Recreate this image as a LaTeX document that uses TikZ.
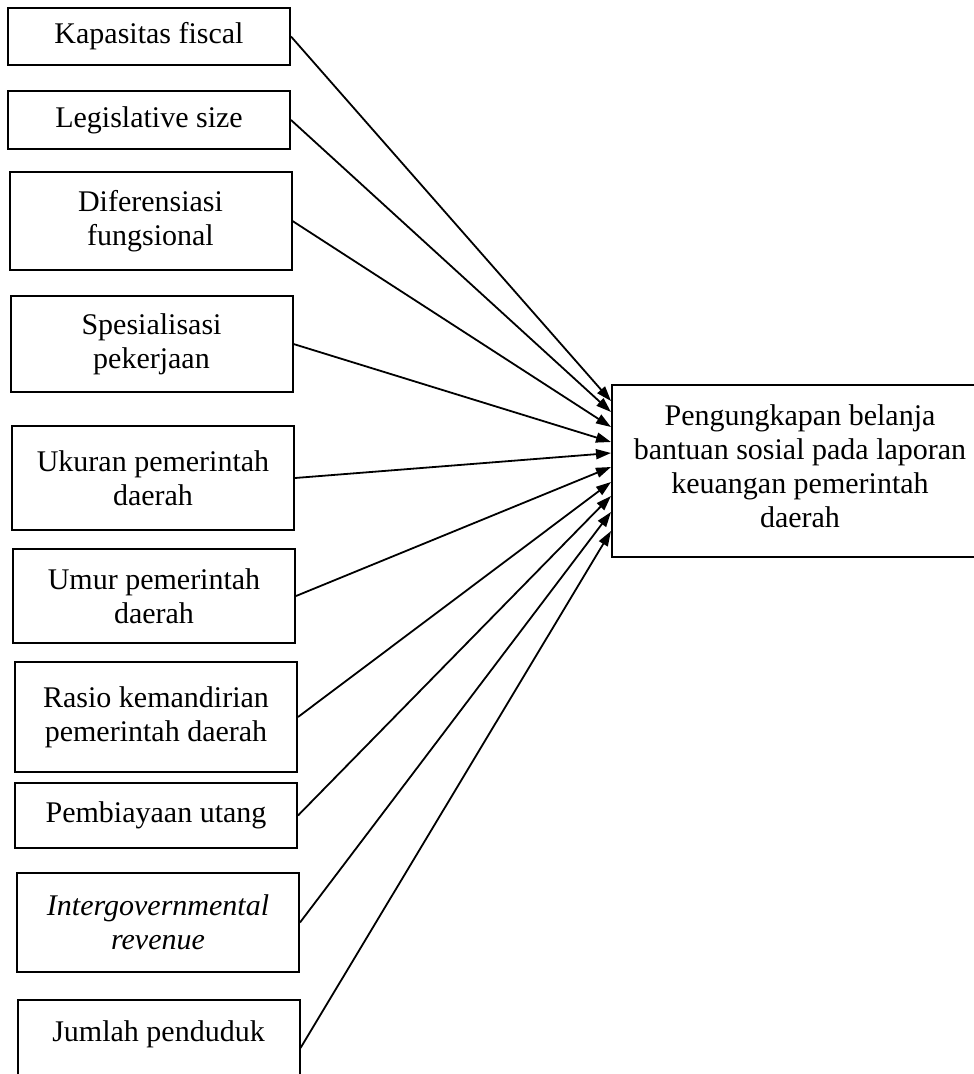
\documentclass[tikz,border=0pt]{standalone}
\usepackage{fontspec}
\setmainfont{Liberation Serif}
\usepackage{tikz}
\usetikzlibrary{arrows.meta,calc}

\tikzset{
  varbox/.style={draw, line width=2pt, minimum width=282pt, inner sep=0pt,
    align=center, font=\fontsize{30}{34}\selectfont},
  inflow/.style={line width=1.8pt, -{Triangle[length=15pt,width=10pt]}}
}

\begin{document}
\begin{tikzpicture}[x=1pt,y=1pt,yscale=-1,xscale=1]
\useasboundingbox (0,0) rectangle (974,1074);

%Shape: Rectangle [independent variables]
\node [varbox, minimum height=57pt] (kapasitas) at (149,36.5) {Kapasitas fiscal};
\node [varbox, minimum height=58pt] (legislatif) at (149,120) {Legislative size};
\node [varbox, minimum height=98pt] (diferensiasi) at (150.5,221) {Diferensiasi\\fungsional};
\node [varbox, minimum height=96pt] (spesialisasi) at (151.5,344) {Spesialisasi\\pekerjaan};
\node [varbox, minimum height=104pt] (ukuran) at (153,478) {Ukuran pemerintah\\daerah};
\node [varbox, minimum height=94pt] (umur) at (154,596) {Umur pemerintah\\daerah};
\node [varbox, minimum height=110pt] (rasio) at (156,717) {Rasio kemandirian\\pemerintah daerah};
\node [varbox, minimum height=65pt] (pembiayaan) at (156,815.5) {Pembiayaan utang};
\node [varbox, minimum height=99pt] (intergov) at (158,922.5) {\itshape Intergovernmental\\\itshape revenue};
\node [varbox, minimum height=96pt, anchor=north] (penduduk) at (158.5,999) {Jumlah penduduk\\\mbox{}};

%Shape: Rectangle [dependent variable]
\node [varbox, minimum width=376pt, minimum height=172pt] (belanja) at (800,471)
  {Pengungkapan belanja\\bantuan sosial pada laporan\\keuangan pemerintah\\daerah\\[-25pt]\mbox{}};

%Straight Lines with arrows
\foreach \src/\dy in {kapasitas/17, legislatif/28, diferensiasi/43, spesialisasi/58,
    ukuran/69, umur/83, rasio/98, pembiayaan/112, intergov/128, penduduk/147}
  \draw [inflow] (\src.east) -- ($(belanja.north west)+(0,\dy)$);

\end{tikzpicture}
\end{document}
